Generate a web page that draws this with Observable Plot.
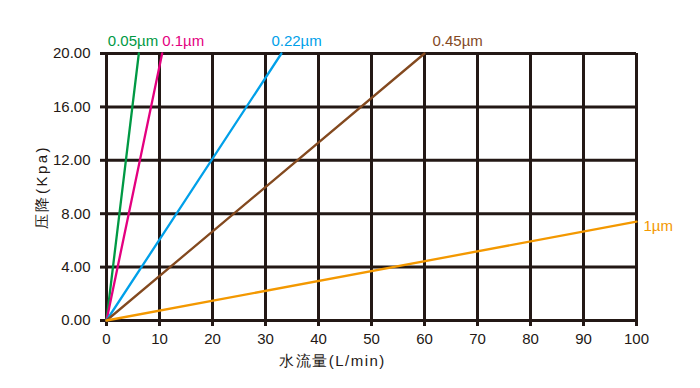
<!DOCTYPE html>
<html>
<head>
<meta charset="utf-8">
<script src="https://cdn.jsdelivr.net/npm/d3@7"></script>
<script src="https://cdn.jsdelivr.net/npm/@observablehq/plot@0.6"></script>
<style>
  html, body { margin: 0; padding: 0; background: #fff; }
  #chart svg { display: block; }
</style>
</head>
<body>
<div id="chart"></div>
<script>
// Series data (filter pore size -> flow endpoint, pressure drop endpoint); lines start at origin
const seriesNames = ["0.05µm", "0.1µm", "0.22µm", "0.45µm", "1µm"];
const seriesEndFlow = [6.1, 10.5, 33, 60, 100];
const seriesEndPressure = [20, 20, 20, 20, 7.4];
const seriesColors = ["#009944", "#e4007f", "#00a0e9", "#83491f", "#f39800"];
const xTicks = [0, 10, 20, 30, 40, 50, 60, 70, 80, 90, 100];
const yTicks = [0, 4, 8, 12, 16, 20];
const xLabel = "水流量(L/min)";
const yLabel = "压降(Kpa)";

// label styling (offsets in pixels)
const labelDx = [-31, 0, -10, 8, 7];
const labelDy = [-8, -8, -8, -8, 4];

const lineData = [];
seriesNames.forEach((name, i) => {
  lineData.push({name, flow: 0, p: 0});
  lineData.push({name, flow: seriesEndFlow[i], p: seriesEndPressure[i]});
});
const endData = seriesNames.map((name, i) => ({
  name, flow: seriesEndFlow[i], p: seriesEndPressure[i], i
}));

const gridColor = "#231815";

const chart = Plot.plot({
  width: 700,
  height: 388,
  marginLeft: 106,
  marginRight: 64,
  marginTop: 53,
  marginBottom: 68,
  style: {fontFamily: "'Liberation Sans', Arial, sans-serif", fontSize: "15px", color: "#231815"},
  x: {domain: [0, 100], label: null},
  y: {domain: [0, 20], label: null},
  color: {domain: seriesNames, range: seriesColors},
  marks: [
    Plot.ruleX(xTicks, {stroke: gridColor, strokeWidth: 3}),
    Plot.ruleY(yTicks, {stroke: gridColor, strokeWidth: 3}),
    Plot.axisX(xTicks, {tickSize: 6, tickPadding: 7, stroke: gridColor, strokeWidth: 3, fill: gridColor, fontSize: 15, label: null}),
    Plot.axisY(yTicks, {tickSize: 6, tickPadding: 10, stroke: gridColor, strokeWidth: 3, fill: gridColor, fontSize: 15, tickFormat: d3.format(".2f"), label: null}),
    Plot.line(lineData, {x: "flow", y: "p", z: "name", stroke: "name", strokeWidth: 2.3}),
    Plot.text(endData.filter(d => d.i < 4), {
      x: "flow", y: "p", text: "name", fill: "name",
      textAnchor: "start", lineAnchor: "bottom",
      fontSize: 15, className: "serlbl"
    }),
    Plot.text(endData.filter(d => d.i === 4), {
      x: "flow", y: "p", text: "name", fill: "name",
      textAnchor: "start", lineAnchor: "middle",
      fontSize: 15, className: "serlbl"
    }),
    Plot.text([xLabel], {frameAnchor: "bottom", text: d => d, dx: -39, dy: 45, lineAnchor: "bottom", fontSize: 15, fill: gridColor, className: "xlbl"}),
    Plot.text([yLabel], {frameAnchor: "left", text: d => d, rotate: -90, dx: -64, dy: 0, lineAnchor: "middle", textAnchor: "middle", fontSize: 15, fill: gridColor, className: "ylbl"})
  ]
});

// apply per-label offsets and typography tweaks
const svg = d3.select(chart);
svg.selectAll("g.serlbl text").each(function() {
  const t = d3.select(this);
  const i = seriesNames.indexOf(t.text());
  t.attr("dx", labelDx[i]).attr("dy", labelDy[i])
   .style("font-family", "'Liberation Sans Narrow', 'Arial Narrow', 'Liberation Sans', Arial, sans-serif");
});
svg.selectAll("g.xlbl text").style("letter-spacing", "1.5px");
svg.selectAll("g.ylbl text").style("letter-spacing", "2.5px");

document.getElementById("chart").appendChild(chart);
</script>
</body>
</html>
